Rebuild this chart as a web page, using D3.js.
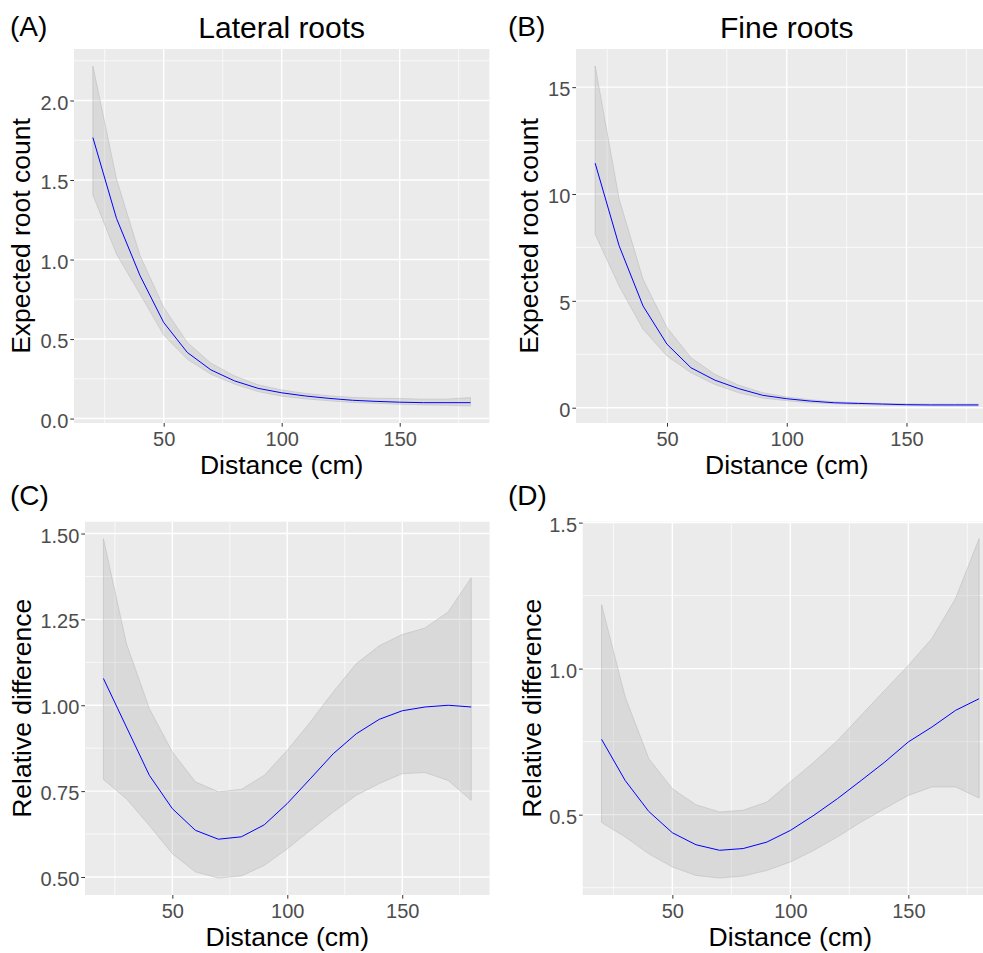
<!DOCTYPE html>
<html>
<head>
<meta charset="utf-8">
<script src="https://cdn.jsdelivr.net/npm/d3@7"></script>
<style>
body { margin: 0; background: #fff; overflow: hidden; }
svg { display: block; font-family: Arial, "Liberation Sans", sans-serif; }
</style>
</head>
<body>
<div class="chart"></div>
<script>
// distance along the root (cm)
var distance = [20, 30, 40, 50, 60, 70, 80, 90, 100, 110, 120, 130, 140, 150, 160, 170, 180];

// (A) lateral roots, expected count
var lateralFit   = [1.767, 1.259, 0.898, 0.604, 0.416, 0.306, 0.237, 0.190, 0.162, 0.142, 0.127, 0.115, 0.108, 0.103, 0.100, 0.100, 0.100];
var lateralUpper = [2.217, 1.507, 1.024, 0.699, 0.479, 0.348, 0.268, 0.212, 0.180, 0.158, 0.143, 0.133, 0.128, 0.126, 0.122, 0.122, 0.132];
var lateralLower = [1.406, 1.035, 0.783, 0.525, 0.373, 0.279, 0.217, 0.170, 0.141, 0.124, 0.112, 0.101, 0.096, 0.090, 0.086, 0.084, 0.079];

// (B) fine roots, expected count
var fineFit   = [11.44, 7.58, 4.76, 2.97, 1.87, 1.29, 0.89, 0.58, 0.42, 0.31, 0.23, 0.20, 0.17, 0.14, 0.13, 0.13, 0.13];
var fineUpper = [15.99, 9.77, 6.01, 3.75, 2.34, 1.56, 1.05, 0.70, 0.50, 0.37, 0.28, 0.23, 0.20, 0.18, 0.17, 0.17, 0.17];
var fineLower = [8.12, 5.70, 3.67, 2.42, 1.64, 1.09, 0.70, 0.45, 0.33, 0.23, 0.19, 0.14, 0.12, 0.11, 0.09, 0.08, 0.08];

// (C) lateral roots, relative difference
var lateralDiffFit   = [1.078, 0.937, 0.796, 0.699, 0.636, 0.610, 0.617, 0.652, 0.714, 0.786, 0.859, 0.917, 0.959, 0.984, 0.995, 1.000, 0.995];
var lateralDiffUpper = [1.485, 1.180, 0.990, 0.864, 0.777, 0.748, 0.755, 0.796, 0.869, 0.951, 1.039, 1.121, 1.173, 1.206, 1.225, 1.272, 1.371];
var lateralDiffLower = [0.784, 0.728, 0.650, 0.568, 0.515, 0.497, 0.503, 0.534, 0.582, 0.636, 0.689, 0.738, 0.772, 0.801, 0.804, 0.781, 0.723];

// (D) fine roots, relative difference
var fineDiffFit   = [0.758, 0.617, 0.511, 0.438, 0.397, 0.378, 0.384, 0.406, 0.446, 0.498, 0.555, 0.617, 0.680, 0.749, 0.800, 0.857, 0.897];
var fineDiffUpper = [1.219, 0.903, 0.692, 0.589, 0.534, 0.509, 0.515, 0.543, 0.612, 0.680, 0.754, 0.840, 0.926, 1.011, 1.103, 1.240, 1.445];
var fineDiffLower = [0.473, 0.424, 0.366, 0.321, 0.292, 0.283, 0.290, 0.309, 0.338, 0.378, 0.424, 0.475, 0.521, 0.566, 0.595, 0.595, 0.557];

// tick labels
var xTicks = [50, 100, 150];
var yTicksA = [0, 0.5, 1, 1.5, 2];
var yTicksB = [0, 5, 10, 15];
var yTicksC = [0.5, 0.75, 1, 1.25, 1.5];
var yTicksD = [0.5, 1, 1.5];

var svg = d3.select(".chart").append("svg")
    .attr("width", 983)
    .attr("height", 953);

function expand(ext) {
  var pad = (ext[1] - ext[0]) * 0.05;
  return [ext[0] - pad, ext[1] + pad];
}

function minors(ticks, domain) {
  var step = ticks[1] - ticks[0], out = [];
  for (var i = -1; i < ticks.length; i++) {
    var v = ticks[0] + step * (i + 0.5);
    if (v > domain[0] && v < domain[1]) out.push(v);
  }
  return out;
}

function drawPanel(p) {
  var x = d3.scaleLinear().domain(expand(d3.extent(distance))).range([p.left, p.right]);
  var y = d3.scaleLinear().domain(expand([d3.min(p.lower), d3.max(p.upper)])).range([p.bottom, p.top]);

  var g = svg.append("g");

  g.append("rect")
      .attr("x", p.left).attr("y", p.top)
      .attr("width", p.right - p.left).attr("height", p.bottom - p.top)
      .attr("fill", "#EBEBEB");

  // grid
  g.selectAll(".minor-y").data(minors(p.yTicks, y.domain())).enter().append("line")
      .attr("x1", p.left).attr("x2", p.right)
      .attr("y1", (d) => y(d)).attr("y2", (d) => y(d))
      .attr("stroke", "#fff").attr("stroke-width", 0.7);
  g.selectAll(".minor-x").data(minors(xTicks, x.domain())).enter().append("line")
      .attr("y1", p.top).attr("y2", p.bottom)
      .attr("x1", (d) => x(d)).attr("x2", (d) => x(d))
      .attr("stroke", "#fff").attr("stroke-width", 0.7);
  g.selectAll(".major-y").data(p.yTicks).enter().append("line")
      .attr("x1", p.left).attr("x2", p.right)
      .attr("y1", (d) => y(d)).attr("y2", (d) => y(d))
      .attr("stroke", "#fff").attr("stroke-width", 1.4);
  g.selectAll(".major-x").data(xTicks).enter().append("line")
      .attr("y1", p.top).attr("y2", p.bottom)
      .attr("x1", (d) => x(d)).attr("x2", (d) => x(d))
      .attr("stroke", "#fff").attr("stroke-width", 1.4);

  var rows = distance.map((d, i) => ({ d: d, fit: p.fit[i], lo: p.lower[i], hi: p.upper[i] }));

  var band = d3.area()
      .x((r) => x(r.d))
      .y0((r) => y(r.lo))
      .y1((r) => y(r.hi));

  g.append("path")
      .datum(rows)
      .attr("d", band)
      .attr("fill", "#999")
      .attr("fill-opacity", 0.22)
      .attr("stroke", "#bdbdbd")
      .attr("stroke-width", 0.6);

  g.append("path")
      .datum(rows)
      .attr("d", d3.line().x((r) => x(r.d)).y((r) => y(r.fit)))
      .attr("fill", "none")
      .attr("stroke", "blue")
      .attr("stroke-width", 1);

  // axes
  var yAxis = g.append("g")
      .attr("transform", "translate(" + p.left + ",0)")
      .call(d3.axisLeft(y).tickValues(p.yTicks).tickSize(3.7).tickPadding(2).tickFormat(d3.format(p.fmt)));
  var xAxis = g.append("g")
      .attr("transform", "translate(0," + p.bottom + ")")
      .call(d3.axisBottom(x).tickValues(xTicks).tickSize(3.7).tickPadding(5.5));

  [yAxis, xAxis].forEach(function(a) {
    a.select(".domain").remove();
    a.selectAll(".tick line").attr("stroke", "#333").attr("stroke-width", 1);
    a.selectAll(".tick text").attr("fill", "#4D4D4D").style("font-size", "20px");
  });
  yAxis.selectAll(".tick text").attr("dy", "0.43em");

  g.append("text")
      .attr("x", (p.left + p.right) / 2)
      .attr("y", p.bottom + 50.5)
      .attr("text-anchor", "middle")
      .style("font-size", "26.5px")
      .text("Distance (cm)");

  g.append("text")
      .attr("transform", "translate(" + p.yTitleX + "," + (p.top + p.bottom) / 2 + ") rotate(-90)")
      .attr("text-anchor", "middle")
      .style("font-size", "26.5px")
      .text(p.yTitle);

  if (p.title) {
    g.append("text")
        .attr("x", (p.left + p.right) / 2)
        .attr("y", 37.7)
        .attr("text-anchor", "middle")
        .style("font-size", "30px")
        .text(p.title);
  }

  g.append("text")
      .attr("x", p.tagX)
      .attr("y", p.tagY)
      .style("font-size", "28px")
      .text(p.tag);
}

drawPanel({ tag: "(A)", title: "Lateral roots", yTitle: "Expected root count",
  fit: lateralFit, lower: lateralLower, upper: lateralUpper, yTicks: yTicksA, fmt: ".1f",
  left: 74, right: 489.4, top: 49, bottom: 423, yTitleX: 30, tagX: 10, tagY: 36 });

drawPanel({ tag: "(B)", title: "Fine roots", yTitle: "Expected root count",
  fit: fineFit, lower: fineLower, upper: fineUpper, yTicks: yTicksB, fmt: "d",
  left: 576, right: 997.5, top: 49, bottom: 423, yTitleX: 538, tagX: 508, tagY: 36 });

drawPanel({ tag: "(C)", yTitle: "Relative difference",
  fit: lateralDiffFit, lower: lateralDiffLower, upper: lateralDiffUpper, yTicks: yTicksC, fmt: ".2f",
  left: 85, right: 489.6, top: 521.7, bottom: 895, yTitleX: 31, tagX: 10, tagY: 505 });

drawPanel({ tag: "(D)", yTitle: "Relative difference",
  fit: fineDiffFit, lower: fineDiffLower, upper: fineDiffUpper, yTicks: yTicksD, fmt: ".1f",
  left: 582.7, right: 998, top: 521.7, bottom: 895, yTitleX: 541, tagX: 508, tagY: 505 });
</script>
</body>
</html>
